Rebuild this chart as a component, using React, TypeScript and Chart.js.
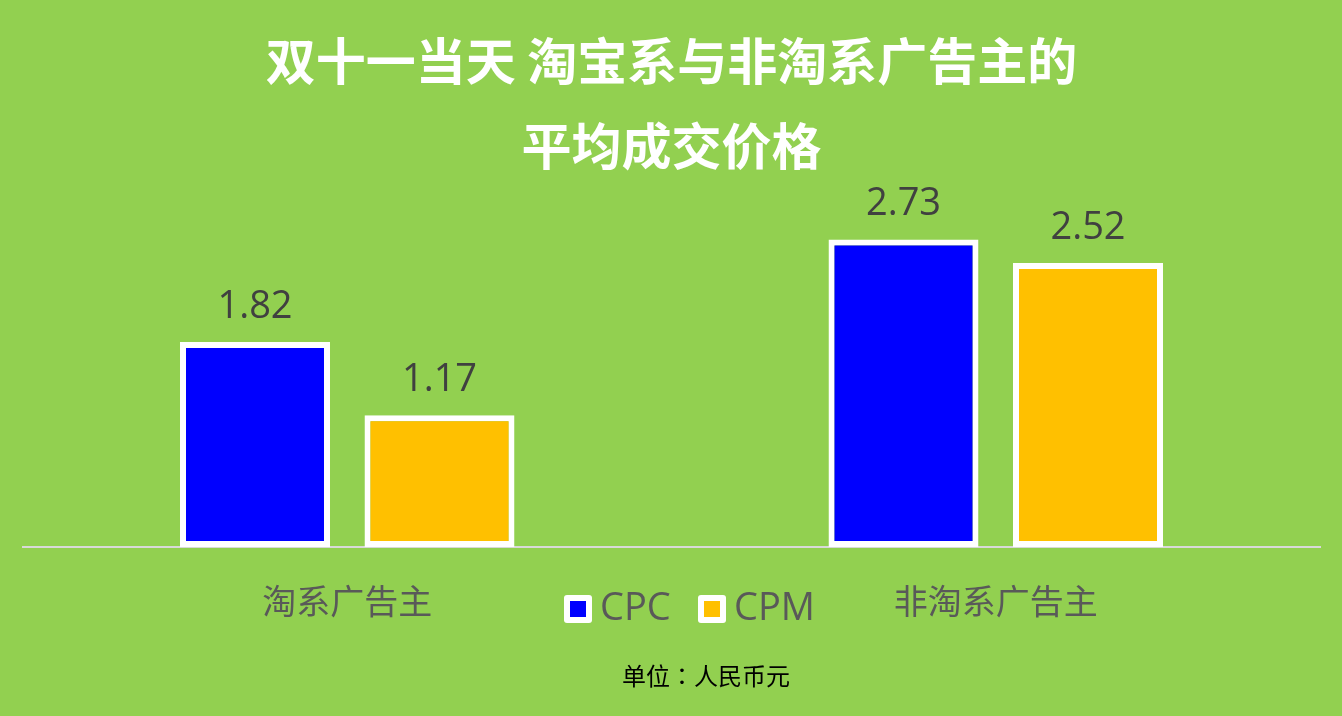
import { useEffect, useRef } from "react";
import { Chart, registerables } from "chart.js";

Chart.register(...registerables);

const titleLines = ["双十一当天 淘宝系与非淘系广告主的", "平均成交价格"];
const categories = ["淘系广告主", "非淘系广告主"];
const seriesNames = ["CPC", "CPM"];
const cpcValues = [1.82, 2.73];
const cpmValues = [1.17, 2.52];
const seriesColors = ["#0000FF", "#FFC000"];
const unitNote = "单位：人民币元";

const CJK = '"Noto Sans CJK SC", "Noto Sans", sans-serif';
const NUM = '"Open Sans", "Noto Sans", sans-serif';

// value labels above every bar
const valueLabels = {
  id: "valueLabels",
  afterDatasetsDraw(chart: Chart) {
    const { ctx } = chart;
    ctx.save();
    ctx.fillStyle = "#404040";
    ctx.font = `38px ${NUM}`;
    ctx.textAlign = "center";
    ctx.textBaseline = "middle";
    chart.data.datasets.forEach((ds, i) => {
      chart.getDatasetMeta(i).data.forEach((bar: any, j) => {
        ctx.fillText(String(ds.data[j]), bar.x, bar.y - 35);
      });
    });
    ctx.restore();
  },
};

// legend between the two categories + unit note at the bottom
const legendAndNote = {
  id: "legendAndNote",
  afterDraw(chart: Chart) {
    const { ctx } = chart;
    ctx.save();
    const starts = [564, 698];
    const cy = 609;
    chart.data.datasets.forEach((ds, i) => {
      const x = starts[i];
      ctx.fillStyle = "#FFFFFF";
      ctx.beginPath();
      (ctx as any).roundRect(x, cy - 14, 28, 28, 3);
      ctx.fill();
      ctx.fillStyle = ds.backgroundColor as string;
      ctx.fillRect(x + 6, cy - 8, 16, 16);
      ctx.fillStyle = "#595959";
      ctx.font = `38px ${NUM}`;
      ctx.textAlign = "left";
      ctx.textBaseline = "middle";
      ctx.fillText(ds.label as string, x + 36, cy);
    });
    ctx.fillStyle = "#000000";
    ctx.font = `24px "Noto Sans CJK TC", ${CJK}`;
    ctx.textAlign = "center";
    ctx.textBaseline = "middle";
    ctx.fillText(unitNote, 706, 676);
    ctx.restore();
  },
};

export default function App() {
  const canvasRef = useRef<HTMLCanvasElement>(null);
  const chartRef = useRef<Chart | null>(null);

  useEffect(() => {
    if (!canvasRef.current) return;
    if (chartRef.current) chartRef.current.destroy();

    chartRef.current = new Chart(canvasRef.current, {
      type: "bar",
      data: {
        labels: categories,
        datasets: [
          {
            label: seriesNames[0],
            data: cpcValues,
            backgroundColor: seriesColors[0],
            borderColor: "#FFFFFF",
            borderWidth: 6,
            borderSkipped: false,
          },
          {
            label: seriesNames[1],
            data: cpmValues,
            backgroundColor: seriesColors[1],
            borderColor: "#FFFFFF",
            borderWidth: 6,
            borderSkipped: false,
          },
        ],
      },
      options: {
        responsive: false,
        animation: false,
        devicePixelRatio: 1,
        categoryPercentage: 0.569,
        barPercentage: 0.813,
        layout: { padding: { left: 23, right: 22, top: 0, bottom: 0 } },
        plugins: {
          legend: { display: false },
          tooltip: { enabled: false },
          title: {
            display: true,
            text: titleLines,
            color: "#FFFFFF",
            font: { family: CJK, size: 50, weight: "bold", lineHeight: 1.7 },
            padding: { top: 18, bottom: 21 },
          },
        },
        scales: {
          x: {
            grid: { display: false, drawTicks: false },
            border: { color: "#D9D9D9", width: 2 },
            ticks: { color: "#595959", font: { family: CJK, size: 34 }, padding: 34 },
            afterFit: (s: any) => { s.height = 169; },
          },
          y: {
            display: false,
            min: 0,
            max: 3,
          },
        },
      },
      plugins: [valueLabels, legendAndNote],
    });

    return () => { chartRef.current?.destroy(); };
  }, []);

  return (
    <div style={{ position: "fixed", left: 0, top: 0, width: 1342, height: 716, background: "#92D050" }}>
      <canvas ref={canvasRef} width={1342} height={716} />
    </div>
  );
}
